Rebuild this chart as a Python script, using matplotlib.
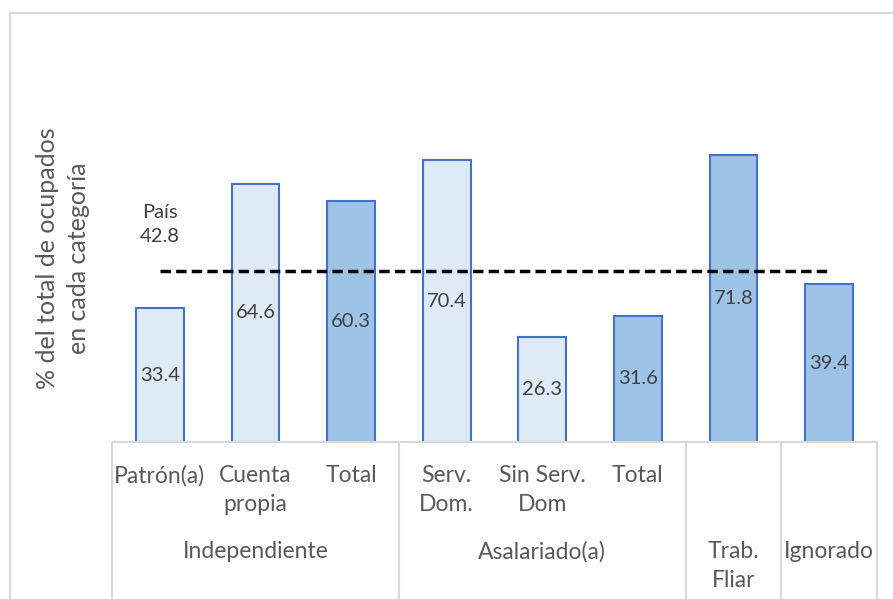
import matplotlib

matplotlib.use("Agg")
import matplotlib.pyplot as plt
from matplotlib.lines import Line2D

# categories / values
sub_labels = ["Patrón(a)", "Cuenta\npropia", "Total", "Serv.\nDom.", "Sin Serv.\nDom", "Total", "", ""]
group_labels = ["Independiente", "Asalariado(a)", "Trab.\nFliar", "Ignorado"]
group_spans = [(0, 2), (3, 5), (6, 6), (7, 7)]
values = [33.4, 64.6, 60.3, 70.4, 26.3, 31.6, 71.8, 39.4]
is_total = [False, False, True, False, False, True, True, True]
pais_value = 42.8

LIGHT = "#DEEBF7"
DARK = "#9DC3E6"
EDGE = "#4472C4"
GRID = "#D9D9D9"
TEXT = "#595959"

plt.rcParams["font.family"] = ["Lato", "DejaVu Sans"]

W, H = 893, 599
fig = plt.figure(figsize=(W / 100, H / 100), dpi=100)
left, right, base, top = 112, 877, 442, 42
ax = fig.add_axes([left / W, (H - base) / H, (right - left) / W, (base - top) / H])

x = list(range(len(values)))
colors = [DARK if t else LIGHT for t in is_total]
ax.bar(x, values, width=0.5, color=colors, edgecolor=EDGE, linewidth=1.5, zorder=2)
for xi, v in zip(x, values):
    ax.text(xi, v / 2, f"{v:.1f}", ha="center", va="center", fontsize=14.5, color="#404040", zorder=4)

ax.plot([0, 7], [pais_value, pais_value], color="black", linestyle=(0, (3, 1.5)), linewidth=2.5, zorder=3)
ax.text(0, pais_value + 6.5, f"País\n{pais_value}", ha="center", va="bottom", fontsize=14.5,
        color="#404040", linespacing=1.5)

ax.set_xlim(-0.5, 7.5)
ax.set_ylim(0, 100)
ax.axis("off")

# category axis with group separators
trans = ax.get_xaxis_transform()
ax.add_line(Line2D([-0.5, 7.5], [0, 0], transform=trans, color=GRID, linewidth=1.5, clip_on=False))
for sep in [-0.5, 2.5, 5.5, 6.5, 7.5]:
    ax.add_line(Line2D([sep, sep], [0, -0.5], transform=trans, color=GRID, linewidth=1.5, clip_on=False))

for xi, lab in zip(x, sub_labels):
    if lab:
        ax.text(xi, -0.0575, lab, transform=trans, ha="center", va="top", fontsize=16.5,
                color=TEXT, linespacing=1.45)
for (a, b), lab in zip(group_spans, group_labels):
    ax.text((a + b) / 2, -0.2475, lab, transform=trans, ha="center", va="top", fontsize=16.5,
            color=TEXT, linespacing=1.45)

ax.text(-0.064, 0.46, "% del total de ocupados\nen cada categoría", transform=ax.transAxes,
        rotation=90, ha="center", va="center", fontsize=18, color=TEXT, linespacing=1.4)

# outer chart border
fig.add_artist(Line2D([10 / W, 1], [1 - 13 / H, 1 - 13 / H], transform=fig.transFigure, color=GRID, linewidth=1.5))
fig.add_artist(Line2D([10 / W, 10 / W], [0, 1 - 13 / H], transform=fig.transFigure, color=GRID, linewidth=1.5))

fig.savefig("out.png", dpi=100)
